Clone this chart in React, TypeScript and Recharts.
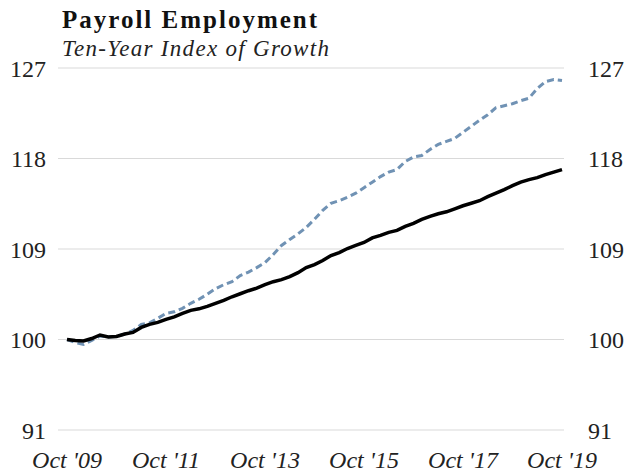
import { LineChart, Line, XAxis, YAxis, CartesianGrid } from 'recharts';

// bimonthly, Oct '09 .. Oct '19
const months = ['Oct', 'Dec', 'Feb', 'Apr', 'Jun', 'Aug'];
const startYear = 2009;

const totalIndex = [
  100.0, 99.9, 99.85, 100.1, 100.45, 100.25, 100.3, 100.55, 100.7, 101.2,
  101.5, 101.7, 102.0, 102.25, 102.6, 102.9, 103.05, 103.3, 103.6, 103.9,
  104.25, 104.55, 104.85, 105.1, 105.45, 105.75, 105.95, 106.25, 106.65, 107.15,
  107.45, 107.85, 108.35, 108.65, 109.05, 109.35, 109.65, 110.1, 110.35, 110.65,
  110.85, 111.25, 111.55, 111.95, 112.25, 112.5, 112.7, 113.0, 113.3, 113.55,
  113.8, 114.2, 114.55, 114.9, 115.3, 115.65, 115.9, 116.1, 116.4, 116.65,
  116.9,
];

const regionIndex = [
  100.0, 99.7, 99.5, 99.9, 100.35, 100.25, 100.3, 100.55, 100.9, 101.5,
  101.65, 102.1, 102.6, 102.75, 103.1, 103.6, 104.0, 104.5, 105.05, 105.45,
  105.75, 106.35, 106.7, 107.15, 107.65, 108.45, 109.35, 109.95, 110.5, 111.15,
  111.95, 112.85, 113.55, 113.8, 114.15, 114.55, 115.1, 115.65, 116.2, 116.65,
  116.9, 117.7, 118.15, 118.3, 118.9, 119.4, 119.7, 120.0, 120.6, 121.2,
  121.8, 122.35, 123.05, 123.25, 123.45, 123.75, 124.0, 124.95, 125.65, 125.85,
  125.75,
];

const yTicks = [91, 100, 109, 118, 127];
const xTickLabels = ["Oct '09", "Oct '11", "Oct '13", "Oct '15", "Oct '17", "Oct '19"];

const labels = totalIndex.map((_, i) => {
  const m = i % 6;
  const year = startYear + Math.floor(i / 6) + (m >= 2 ? 1 : 0);
  return `${months[m]} '${String(year % 100).padStart(2, '0')}`;
});

const data = labels.map((label, i) => ({
  label,
  total: totalIndex[i],
  region: regionIndex[i],
}));

const xTicks = labels.filter((l) => xTickLabels.includes(l));

const FONT = '"Liberation Serif", "DejaVu Serif", serif';

export default function App() {
  return (
    <div style={{ position: 'absolute', left: 0, top: 0, width: 626, height: 475, background: '#fff', fontFamily: FONT }}>
      <div style={{ position: 'absolute', left: 62, top: 6, fontSize: 25, fontWeight: 'bold', color: '#111', lineHeight: '28px', letterSpacing: 2, whiteSpace: 'nowrap' }}>
        Payroll Employment
      </div>
      <div style={{ position: 'absolute', left: 62, top: 36, fontSize: 23, fontStyle: 'italic', color: '#222', lineHeight: '26px', letterSpacing: 1.3, whiteSpace: 'nowrap' }}>
        Ten-Year Index of Growth
      </div>
      <LineChart width={626} height={475} data={data} margin={{ top: 68, right: 0, bottom: 0, left: 0 }}>
        <CartesianGrid vertical={false} stroke="#d9d9d9" strokeWidth={1.2} yAxisId="left" />
        <XAxis
          dataKey="label"
          ticks={xTicks}
          interval={0}
          axisLine={false}
          tickLine={false}
          tickSize={0}
          tickMargin={21}
          height={45}
          padding={{ left: 9, right: 2 }}
          tick={{ fontFamily: FONT, fontStyle: 'italic', fontSize: 24, fill: '#222' }}
        />
        <YAxis
          yAxisId="left"
          orientation="left"
          domain={[91, 127]}
          ticks={yTicks}
          axisLine={false}
          tickLine={false}
          tickSize={0}
          tickMargin={12}
          width={58}
          tick={{ fontFamily: FONT, fontSize: 24, fill: '#222' }}
        />
        <YAxis
          yAxisId="right"
          orientation="right"
          domain={[91, 127]}
          ticks={yTicks}
          axisLine={false}
          tickLine={false}
          tickSize={0}
          tickMargin={24}
          width={62}
          tick={{ fontFamily: FONT, fontSize: 24, fill: '#222', textAnchor: 'start' }}
        />
        <Line yAxisId="right" type="linear" dataKey="total" stroke="none" dot={false} activeDot={false} legendType="none" isAnimationActive={false} />
        <Line yAxisId="left" type="linear" dataKey="region" stroke="#7092b4" strokeWidth={3} strokeDasharray="7 4" dot={false} isAnimationActive={false} />
        <Line yAxisId="left" type="linear" dataKey="total" stroke="#000" strokeWidth={3.5} dot={false} isAnimationActive={false} />
      </LineChart>
    </div>
  );
}
